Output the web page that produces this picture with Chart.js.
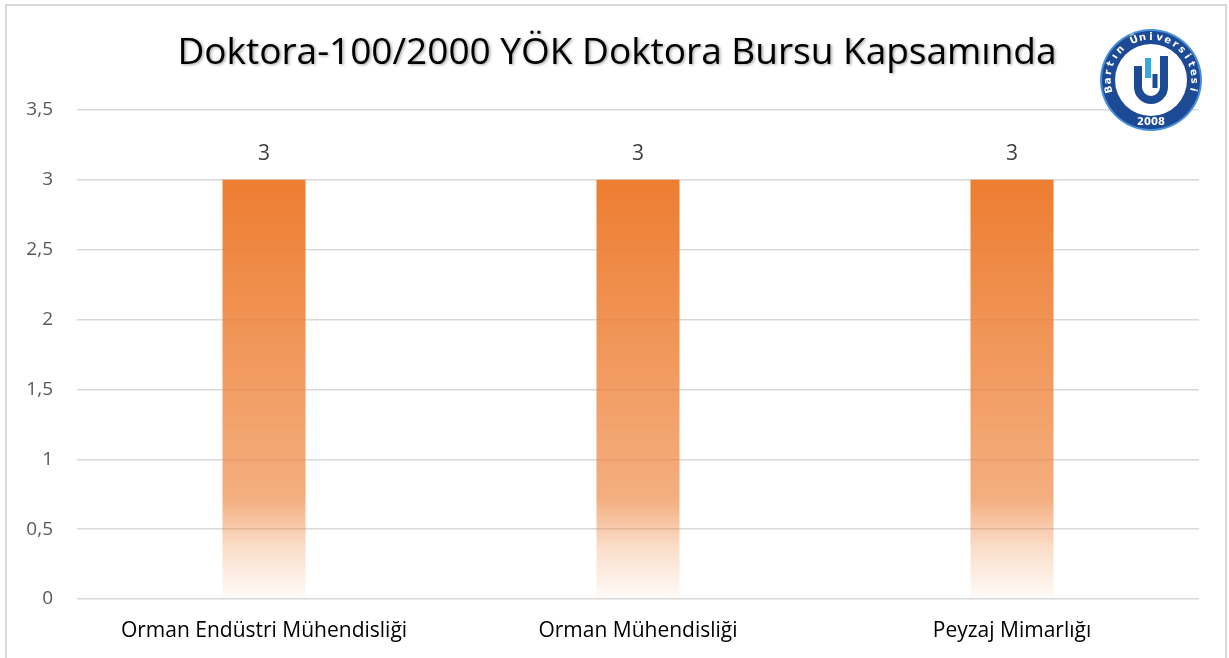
<!DOCTYPE html>
<html>
<head>
<meta charset="utf-8">
<script src="https://cdn.jsdelivr.net/npm/chart.js@4.4.0/dist/chart.umd.min.js"></script>
<style>
  html, body { margin: 0; padding: 0; background: #fff; overflow: hidden; }
  #wrap { width: 1229px; height: 658px; position: relative; }
</style>
</head>
<body>
<div id="wrap"><canvas id="grafico" width="1229" height="658"></canvas></div>
<script>
const titulo = "Doktora-100/2000 YÖK Doktora Bursu Kapsamında";
const bolumler = ["Orman Endüstri Mühendisliği", "Orman Mühendisliği", "Peyzaj Mimarlığı"];
const bursiyerler = [3, 3, 3];
const eksenMin = 0;
const eksenMax = 3.5;
const eksenAdim = 0.5;

// orange fading to white, from the value down to 0
function degrade(context) {
  const chart = context.chart;
  if (!chart.chartArea) return "#ED7D31";
  const y = chart.scales.y;
  const ust = y.getPixelForValue(context.raw || 0);
  const alt = y.getPixelForValue(0);
  const g = chart.ctx.createLinearGradient(0, ust, 0, alt);
  g.addColorStop(0, "rgba(237,125,49,1)");
  g.addColorStop(0.76, "rgba(237,125,49,0.62)");
  g.addColorStop(0.88, "rgba(237,125,49,0.25)");
  g.addColorStop(1, "rgba(237,125,49,0.03)");
  return g;
}

const cerceve = {
  id: "cerceve",
  beforeDraw(chart) {
    const ctx = chart.ctx;
    ctx.save();
    ctx.strokeStyle = "#d9d9d9";
    ctx.lineWidth = 2;
    ctx.strokeRect(6, 5, 1220, 680);
    ctx.restore();
  },
  afterDraw(chart) {
    const ctx = chart.ctx;
    // title with soft shadow
    ctx.save();
    ctx.font = "37px 'Open Sans'";
    ctx.textAlign = "center";
    ctx.textBaseline = "middle";
    ctx.shadowColor = "rgba(0,0,0,0.35)";
    ctx.shadowBlur = 3;
    ctx.shadowOffsetX = 1.5;
    ctx.shadowOffsetY = 1.5;
    ctx.fillStyle = "#000";
    ctx.fillText(titulo, 617, 53);
    ctx.restore();

    // value labels over bars
    const meta = chart.getDatasetMeta(0);
    ctx.save();
    ctx.font = "21px 'Open Sans'";
    ctx.fillStyle = "#404040";
    ctx.textAlign = "center";
    ctx.textBaseline = "middle";
    meta.data.forEach((bar, i) => {
      ctx.fillText(String(bursiyerler[i]).replace(".", ","), bar.x, bar.y - 26);
    });
    ctx.restore();

    logo(ctx, 1151, 80, 51);
  }
};

function yayYazi(ctx, text, cx, cy, r, baslangic, bitis) {
  const adim = (bitis - baslangic) / (text.length - 1);
  for (let i = 0; i < text.length; i++) {
    const a = baslangic + adim * i;
    ctx.save();
    ctx.translate(cx + r * Math.cos(a), cy + r * Math.sin(a));
    ctx.rotate(a + Math.PI / 2);
    ctx.fillText(text[i], 0, 0);
    ctx.restore();
  }
}

function logo(ctx, cx, cy, r) {
  ctx.save();
  ctx.beginPath();
  ctx.arc(cx, cy, r, 0, Math.PI * 2);
  ctx.fillStyle = "#4a90d9";
  ctx.fill();
  ctx.beginPath();
  ctx.arc(cx, cy, r - 2, 0, Math.PI * 2);
  ctx.fillStyle = "#1d4a94";
  ctx.fill();
  ctx.beginPath();
  ctx.arc(cx, cy, r - 15, 0, Math.PI * 2);
  ctx.fillStyle = "#fff";
  ctx.fill();
  ctx.fillStyle = "#fff";
  ctx.font = "bold 10px 'DejaVu Sans'";
  ctx.textAlign = "center";
  ctx.textBaseline = "middle";
  yayYazi(ctx, "Bartın Üniversitesi", cx, cy, r - 8, Math.PI * 0.93, Math.PI * 2.07);
  ctx.fillText("2008", cx, cy + r - 9);
  // U mark
  ctx.lineCap = "butt";
  ctx.strokeStyle = "#1d4a94";
  ctx.lineWidth = 8;
  ctx.beginPath();
  ctx.moveTo(cx - 13, cy - 14);
  ctx.lineTo(cx - 13, cy + 7);
  ctx.arc(cx, cy + 7, 13, Math.PI, 0, true);
  ctx.lineTo(cx + 13, cy - 24);
  ctx.stroke();
  ctx.lineWidth = 5;
  ctx.beginPath();
  ctx.moveTo(cx + 4, cy - 6);
  ctx.lineTo(cx + 4, cy + 8);
  ctx.stroke();
  ctx.strokeStyle = "#3aa7e0";
  ctx.lineWidth = 6;
  ctx.beginPath();
  ctx.moveTo(cx - 3, cy - 22);
  ctx.lineTo(cx - 3, cy - 2);
  ctx.stroke();
  ctx.restore();
}

const chart = new Chart(document.getElementById("grafico"), {
  type: "bar",
  data: {
    labels: bolumler,
    datasets: [{
      data: bursiyerler,
      backgroundColor: degrade,
      borderWidth: 0,
      categoryPercentage: 1,
      barPercentage: 0.222
    }]
  },
  options: {
    responsive: false,
    animation: false,
    devicePixelRatio: 1,
    layout: { padding: { top: 110, right: 30, left: 0, bottom: 0 } },
    plugins: {
      legend: { display: false },
      title: { display: false },
      tooltip: { enabled: false }
    },
    scales: {
      x: {
        grid: { display: false, drawTicks: false },
        border: { display: false },
        ticks: {
          padding: 19,
          color: "#000",
          font: { family: "'Open Sans'", size: 21 }
        },
        afterFit(scale) { scale.height = 59; }
      },
      y: {
        min: eksenMin,
        max: eksenMax,
        grid: { color: "#d9d9d9", lineWidth: 1.5, drawTicks: false },
        border: { display: false },
        ticks: {
          stepSize: eksenAdim,
          padding: 24,
          color: "#595959",
          font: { family: "'Open Sans'", size: 19 },
          callback: (v) => String(v).replace(".", ",")
        },
        afterFit(scale) { scale.width = 77; }
      }
    }
  },
  plugins: [cerceve]
});
</script>
</body>
</html>
